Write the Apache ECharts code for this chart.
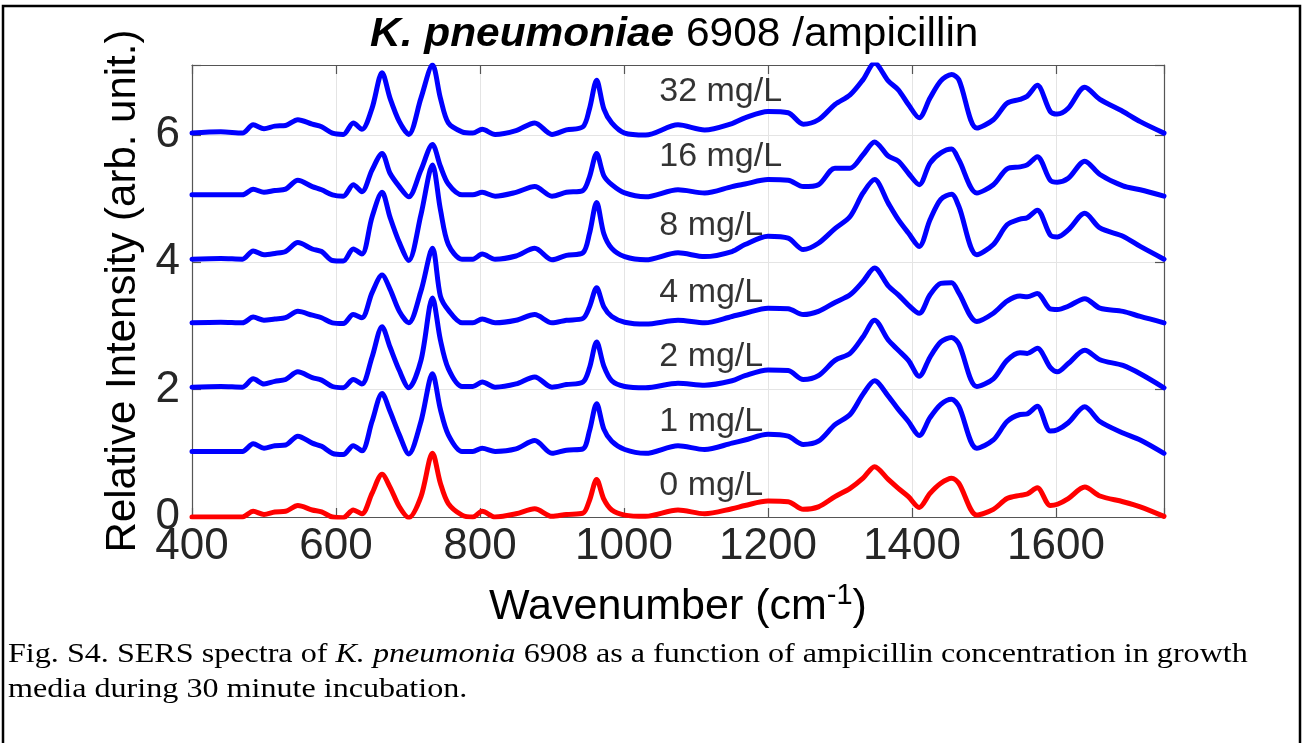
<!DOCTYPE html>
<html><head><meta charset="utf-8">
<script src="https://cdn.jsdelivr.net/npm/echarts@6/dist/echarts.min.js"></script>
<style>html,body{margin:0;padding:0;background:#fff}#c{width:1307px;height:743px}</style>
</head><body><div id="c"></div>
<script>
// Wavenumber sample points (cm^-1)
const wavenumbers = [400,440,470,485,500,515,530,547,567,580,595,610,624,636,650,664,675,688,701,718,734,745,756,775,790,803,821,850,876,900,920,943,952,962,972,983,1001,1030,1075,1112,1150,1168,1200,1228,1249,1270,1293,1314,1332,1348,1367,1381,1395,1410,1425,1440,1455,1465,1490,1513,1532,1550,1560,1574,1592,1602,1617,1640,1661,1693,1717,1750];

// Relative intensities (before vertical offset)
const conc0 = [0,0,0,0.09,0.04,0.08,0.09,0.18,0.11,0.08, 0,-0.01,0.11,0.05,0.37,0.67,0.47,0.16,-0.01,0.32, 1.0,0.53,0.21,0.03,0,0.09,0,0.05,0.13,0.01, 0.04,0.06,0.26,0.59,0.28,0.11,0.03,0.01,0.11,0.05, 0.13,0.18,0.25,0.24,0.12,0.16,0.32,0.45,0.61,0.79, 0.59,0.45,0.32,0.15,0.37,0.53,0.61,0.53,0.03,0.12, 0.29,0.34,0.36,0.46,0.18,0.2,0.29,0.47,0.33,0.24, 0.16,0.01];
const conc1 = [0,0,0,0.12,0.05,0.09,0.1,0.24,0.13,0.08, -0.03,-0.05,0.09,0.01,0.47,0.91,0.63,0.26,-0.04,0.47, 1.22,0.66,0.26,0,0,0.05,0,0.04,0.17,-0.03, 0.02,0.04,0.32,0.75,0.35,0.16,0.03,-0.03,0.09,0.03, 0.13,0.18,0.27,0.24,0.11,0.16,0.42,0.58,0.9,1.11, 0.87,0.66,0.47,0.25,0.53,0.74,0.82,0.71,0.05,0.18, 0.47,0.58,0.59,0.71,0.32,0.34,0.45,0.7,0.47,0.29, 0.18,-0.03];
const conc2 = [0,0.01,0,0.13,0.05,0.09,0.12,0.24,0.15,0.11, 0.01,-0.01,0.12,0.05,0.47,0.95,0.63,0.26,-0.01,0.42, 1.4,0.74,0.29,0.01,0.01,0.08,0,0.05,0.16,0, 0.04,0.08,0.3,0.71,0.33,0.1,0.01,-0.01,0.06,0.03, 0.1,0.18,0.27,0.26,0.12,0.18,0.42,0.53,0.79,1.05, 0.74,0.58,0.42,0.17,0.47,0.71,0.78,0.68,0.01,0.13, 0.42,0.54,0.53,0.61,0.31,0.24,0.37,0.58,0.43,0.34, 0.21,-0.01];
const conc4 = [0,0.01,0,0.09,0.04,0.06,0.08,0.18,0.12,0.08, 0,-0.01,0.13,0.08,0.47,0.75,0.53,0.18,0,0.5, 1.17,0.42,0.2,0,0,0.06,0,0.04,0.13,0, 0.04,0.07,0.25,0.55,0.25,0.1,0.01,-0.02,0.04,0, 0.1,0.15,0.23,0.22,0.13,0.18,0.32,0.44,0.65,0.86, 0.58,0.44,0.28,0.15,0.44,0.62,0.63,0.47,0.02,0.15, 0.34,0.42,0.41,0.46,0.22,0.21,0.26,0.38,0.23,0.18, 0.1,0];
const conc8 = [0,0.01,0,0.13,0.07,0.09,0.12,0.26,0.16,0.12, -0.02,-0.03,0.16,0.08,0.66,1.05,0.66,0.26,-0.02,0.7, 1.48,0.78,0.23,0,0,0.08,0,0.05,0.17,-0.01, 0.06,0.1,0.4,0.89,0.4,0.17,0.04,-0.01,0.1,0.04, 0.12,0.23,0.36,0.33,0.15,0.25,0.48,0.67,1.04,1.25, 0.88,0.62,0.41,0.2,0.62,0.94,1.02,0.83,0.07,0.23, 0.54,0.63,0.65,0.77,0.38,0.35,0.46,0.72,0.49,0.36, 0.2,0];
const conc16 = [0,0,0,0.09,0.04,0.07,0.09,0.23,0.13,0.08, 0,-0.02,0.16,0.05,0.39,0.65,0.34,0.13,-0.03,0.39, 0.79,0.45,0.17,0,0,0.04,-0.02,0.04,0.13,-0.02, 0.04,0.07,0.28,0.65,0.3,0.16,0.03,-0.03,0.08,0.03, 0.13,0.17,0.24,0.23,0.13,0.16,0.42,0.42,0.63,0.83, 0.61,0.53,0.34,0.16,0.5,0.66,0.72,0.55,0.03,0.16, 0.41,0.44,0.47,0.6,0.23,0.2,0.26,0.53,0.32,0.14, 0.08,-0.02];
const conc32 = [0,0.02,0,0.13,0.07,0.11,0.12,0.21,0.14,0.1, 0,-0.02,0.16,0.06,0.39,0.95,0.55,0.18,-0.02,0.55, 1.07,0.55,0.16,0.02,0,0.06,-0.02,0.04,0.16,-0.02, 0.05,0.1,0.38,0.83,0.38,0.16,0,-0.03,0.13,0.05, 0.15,0.24,0.34,0.32,0.14,0.21,0.45,0.6,0.84,1.1, 0.82,0.68,0.45,0.24,0.55,0.82,0.92,0.84,0.08,0.21, 0.47,0.53,0.58,0.75,0.34,0.3,0.39,0.72,0.53,0.34, 0.18,0];

const spectra = [conc0, conc1, conc2, conc4, conc8, conc16, conc32];
const seriesNames = ['0 mg/L','1 mg/L','2 mg/L','4 mg/L','8 mg/L','16 mg/L','32 mg/L'];
const offsets = [0, 1.03, 2.04, 3.05, 4.05, 5.06, 6.03];
const seriesColors = ['#ff0000','#0000ff','#0000ff','#0000ff','#0000ff','#0000ff','#0000ff'];
const labelX = 1049;
const labelY = [0.5, 1.5, 2.52, 3.52, 4.58, 5.66, 6.68];

const xMin = 400, xMax = 1750, xStep = 200;
const yMin = 0, yMax = 7.1, yStep = 2;

const chart = echarts.init(document.getElementById('c'), null, {renderer: 'canvas'});
const SANS = '"Liberation Sans", Arial, Helvetica, sans-serif';
const SERIF = '"Liberation Serif", "Times New Roman", serif';
const axisColor = '#555555';
const textColor = '#262626';

const lineSeries = spectra.map((vals, k) => ({
  type: 'line',
  name: seriesNames[k],
  data: wavenumbers.map((w, i) => [w, vals[i] + offsets[k]]),
  showSymbol: false,
  smooth: 0.3,
  lineStyle: {color: seriesColors[k], width: 5, join: 'round', cap: 'round'},
  itemStyle: {color: seriesColors[k]},
  z: 3,
  silent: true,
  animation: false
}));

const labelSeries = {
  type: 'scatter',
  symbolSize: 0,
  data: seriesNames.map((n, k) => [labelX, labelY[k], n]),
  label: {
    show: true, position: 'right', distance: 0,
    formatter: p => p.data[2],
    fontSize: 34, color: '#000', fontFamily: SANS
  },
  silent: true,
  animation: false,
  z: 5
};

chart.setOption({
  backgroundColor: '#ffffff',
  animation: false,
  grid: {left: 192, right: 143, top: 65, bottom: 226, containLabel: false},
  xAxis: [{
    type: 'value', min: xMin, max: xMax, interval: xStep, position: 'bottom',
    axisLine: {show: true, onZero: false, lineStyle: {color: axisColor, width: 1.2}},
    axisTick: {show: true, inside: true, length: 9, lineStyle: {color: axisColor, width: 1.2}},
    axisLabel: {
      formatter: v => (v % xStep === 0 ? String(v) : ''),
      fontSize: 44, color: textColor, fontFamily: SANS, margin: 8
    },
    splitLine: {show: true, lineStyle: {color: '#e4e4e4', width: 1}},
    name: '{a|Wavenumber (cm}{s|-1}{a|)}',
    nameLocation: 'middle', nameGap: 64,
    nameTextStyle: {
      rich: {
        a: {fontSize: 43, color: '#000', fontFamily: SANS, lineHeight: 52},
        s: {fontSize: 29, color: '#000', fontFamily: SANS, verticalAlign: 'top', lineHeight: 30}
      }
    }
  }, {
    type: 'value', min: xMin, max: xMax, interval: xStep, position: 'top',
    axisLine: {show: true, onZero: false, lineStyle: {color: axisColor, width: 1.2}},
    axisTick: {show: true, inside: true, length: 9, lineStyle: {color: axisColor, width: 1.2}},
    axisLabel: {show: false}, splitLine: {show: false}
  }],
  yAxis: [{
    type: 'value', min: yMin, max: yMax, interval: yStep, position: 'left',
    axisLine: {show: true, onZero: false, lineStyle: {color: axisColor, width: 1.2}},
    axisTick: {show: true, inside: true, length: 9, lineStyle: {color: axisColor, width: 1.2}},
    axisLabel: {
      formatter: v => (Math.abs(v % yStep) < 1e-9 ? String(v) : ''),
      fontSize: 44, color: textColor, fontFamily: SANS, margin: 12
    },
    splitLine: {show: true, lineStyle: {color: '#e4e4e4', width: 1}},
    name: 'Relative Intensity (arb. unit.)',
    nameLocation: 'middle', nameGap: 42, nameRotate: 90,
    nameTextStyle: {fontSize: 42, color: '#000', fontFamily: SANS}
  }, {
    type: 'value', min: yMin, max: yMax, interval: yStep, position: 'right',
    axisLine: {show: true, onZero: false, lineStyle: {color: axisColor, width: 1.2}},
    axisTick: {show: true, inside: true, length: 9, lineStyle: {color: axisColor, width: 1.2}},
    axisLabel: {show: false}, splitLine: {show: false}
  }],
  series: [...lineSeries, labelSeries],
  graphic: [
    {type: 'rect', shape: {x: 3, y: 6, width: 1297, height: 800}, style: {fill: 'none', stroke: '#000', lineWidth: 2.5}, silent: true, z: 100},
    {type: 'text', x: 370, y: 14, scaleX: 1.035, silent: true, z: 50, style: {
      text: '{b|K. pneumoniae}{r| 6908 /ampicillin}',
      rich: {
        b: {fontSize: 41, fontWeight: 'bold', fontStyle: 'italic', fill: '#000', fontFamily: SANS},
        r: {fontSize: 41, fontWeight: 'normal', fill: '#000', fontFamily: SANS}
      }
    }},
    {type: 'text', x: 8, y: 637, scaleX: 1.147, silent: true, z: 50, style: {
      text: '{n|Fig. S4. SERS spectra of }{i|K. pneumonia}{n| 6908 as a function of ampicillin concentration in growth}\n{n|media during 30 minute incubation.}',
      rich: {
        n: {fontSize: 28, fontFamily: SERIF, fill: '#000', lineHeight: 35},
        i: {fontSize: 28, fontFamily: SERIF, fontStyle: 'italic', fill: '#000', lineHeight: 35}
      }
    }}
  ]
});
</script></body></html>
